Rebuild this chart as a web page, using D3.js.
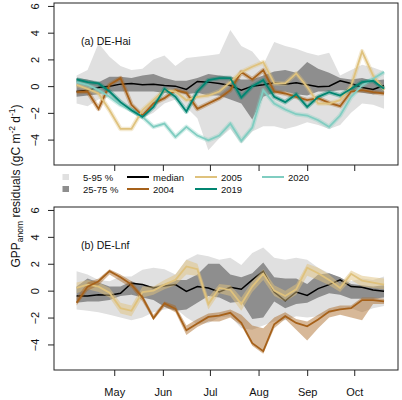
<!DOCTYPE html>
<html>
<head>
<meta charset="utf-8">
<script src="https://cdn.jsdelivr.net/npm/d3@7"></script>
<style>
    body { margin: 0; background: #fff; }
    svg { font-family: "Liberation Sans", Arial, sans-serif; }
</style>
</head>
<body>
<div id="chart"></div>
<script>
// day of year of each weekly value
const weekDoy = [97, 104, 111, 118, 125, 132, 139, 146, 153, 160, 167, 174, 181, 188, 195,
    202, 209, 216, 223, 230, 237, 244, 251, 258, 265, 272, 279, 286, 293];
const monthDoy = [121, 152, 182, 213, 244, 274];
const monthLabels = ['May', 'Jun', 'Jul', 'Aug', 'Sep', 'Oct'];
const yTicks = [-4, -2, 0, 2, 4, 6];

// (a) DE-Hai
const haiP5 = [-1.3, -1.5, -1.0, -0.8, -1.4, -1.9, -2.4, -2.0, -1.3, -1.0, -1.6, -2.4, -4.8, -3.9, -3.2,
    -4.3, -3.4, -3.0, -3.0, -3.2, -3.0, -2.7, -2.9, -3.2, -2.9, -2.0, -1.3, -1.4, -1.7];
const haiP25 = [-0.8, -0.7, -0.6, -0.4, -0.4, -0.4, -0.4, -0.4, -0.5, -0.4, -0.6, -0.5, -0.7, -0.7, -1.0,
    -1.3, -2.5, -0.8, -0.5, -0.4, -0.6, -0.7, -0.4, -0.4, -0.3, -0.3, -0.5, -0.6, -0.5];
const haiP75 = [0.6, 0.5, 0.3, 0.7, 0.7, 0.6, 0.8, 0.9, 0.6, 0.4, 0.4, 0.6, 0.9, 0.8, 0.7,
    0.5, 0.5, 0.8, 1.1, 1.2, 1.0, 1.8, 1.3, 1.0, 0.6, 0.5, 0.6, 0.4, 0.5];
const haiP95 = [0.8, 1.2, 3.2, 2.2, 1.5, 1.2, 1.3, 2.0, 2.3, 1.5, 2.1, 2.2, 2.3, 2.4, 4.2,
    3.0, 2.6, 1.6, 3.3, 3.0, 2.8, 2.5, 2.3, 2.5, 0.8, 1.2, 1.6, 1.4, 1.1];
const haiMedian = [-0.4, -0.3, -0.1, 0.0, 0.15, 0.2, 0.1, 0.15, 0.05, 0.0, -0.25, 0.35, 0.3, 0.2, 0.05,
    -0.3, 0.0, 0.1, 0.25, 0.15, 0.25, 0.1, -0.05, 0.0, 0.4, 0.2, -0.1, -0.25, 0.05];
const hai2004 = [-0.45, -0.4, -1.7, 0.1, 0.6, -1.4, -2.2, -1.3, -0.9, -0.3, -0.5, -1.7, -1.3, -0.9, -0.3,
    1.05, 0.5, 1.2, -0.4, -0.55, -0.8, -1.05, -0.9, -1.25, -1.5, -0.4, -0.3, -0.45, -0.55];
const hai2005 = [0.1, -0.2, -0.55, -1.8, -3.2, -3.2, -1.8, -1.05, -0.3, -0.4, -1.05, -0.8, -0.7, -0.4, 0.3,
    1.05, 1.45, 1.8, 0.2, 0.2, 0.95, -0.05, -1.3, -1.3, -1.05, 0.0, 2.6, 0.8, -0.3];
const hai2019 = [0.5, 0.3, 0.2, -0.4, -1.2, -1.8, -2.3, -1.55, -0.2, -0.8, -1.9, -0.4, 0.45, 0.6, 0.6,
    -0.85, 0.0, 0.45, -0.8, -1.2, -0.6, -1.55, -0.8, -0.45, -0.7, -0.2, 0.3, 0.4, -0.2];
const hai2020 = [0.3, 0.1, -0.3, -0.8, -1.4, -1.8, -2.3, -3.05, -2.8, -3.8, -3.05, -3.7, -4.05, -3.7, -2.8,
    -4.1, -3.1, -0.3, -1.3, -1.75, -2.1, -2.2, -2.55, -3.05, -2.2, -0.8, 0.05, 0.55, 1.05];

// (b) DE-Lnf
const lnfP5 = [-1.4, -1.5, -1.6, -1.8, -2.0, -2.2, -2.0, -1.6, -1.4, -1.3, -2.0, -2.5, -2.4, -2.0, -1.9,
    -2.8, -2.9, -2.6, -2.3, -2.2, -1.9, -2.0, -1.9, -1.7, -1.4, -1.3, -1.6, -1.3, -1.15];
const lnfP25 = [-0.9, -0.8, -0.8, -0.7, -0.4, -0.3, -0.5, -0.7, -1.2, -1.5, -1.4, -0.9, -0.4, -0.5, -0.9,
    -0.8, -2.1, -2.0, -0.8, -1.3, -1.0, -0.9, -0.5, -0.2, -0.3, -0.6, -0.6, -0.6, -0.5];
const lnfP75 = [0.3, 0.9, 0.6, 0.3, 0.3, 0.7, 0.4, 0.3, 0.5, 0.8, 0.8, 1.2, 2.0, 2.0, 1.2,
    1.0, 1.3, 2.1, 1.0, 0.9, 0.9, 0.5, 1.2, 1.3, 1.0, 0.5, 0.4, 0.3, 0.4];
const lnfP95 = [1.45, 1.2, 0.8, 0.7, 1.05, 1.05, 1.55, 1.7, 1.6, 1.2, 2.3, 2.7, 2.55, 2.3, 2.45,
    1.9, 2.8, 3.2, 2.45, 2.3, 2.45, 2.3, 1.7, 1.3, 0.95, 0.7, 0.9, 0.8, 1.05];
const lnfMedian = [-0.4, -0.4, -0.3, -0.35, -0.2, 0.55, 0.45, 0.2, 0.35, 0.45, -0.05, 0.3, 0.2, -0.1, 0.25,
    0.1, 0.8, 1.45, -0.1, -0.75, -0.1, -0.35, 0.15, 0.45, 0.8, 0.3, 0.25, 0.05, -0.05];
const lnf2004 = [-0.9, 0.3, 0.7, 1.45, 1.0, 0.45, -0.5, -2.05, -0.95, -1.35, -2.95, -2.45, -1.95, -1.85, -1.65,
    -2.4, -3.9, -4.5, -2.5, -1.9, -2.4, -2.65, -2.15, -1.55, -1.4, -1.3, -0.7, -0.7, -0.8];
const lnf2004Lo = [-1.1, 0.0, 0.4, 1.2, 0.7, 0.2, -0.8, -2.2, -1.2, -1.6, -3.3, -2.7, -2.3, -2.3, -2.0,
    -2.6, -4.1, -4.7, -2.8, -2.1, -2.9, -3.7, -2.8, -2.0, -1.8, -2.0, -2.2, -1.0, -1.0];
const lnf2004Hi = [-0.5, 0.6, 0.9, 1.6, 1.2, 0.7, -0.3, -1.8, -0.8, -1.1, -2.6, -2.1, -1.7, -1.6, -1.4,
    -1.8, -2.6, -2.8, -2.0, -1.6, -2.1, -2.3, -1.8, -1.3, -1.1, -1.1, -0.5, -0.5, -0.6];
const lnf2005 = [0.2, 0.45, 0.3, -0.15, -1.3, -1.5, -0.1, 0.0, 0.45, 0.8, 1.8, 1.6, -1.0, 0.2, 0.05,
    -1.0, 0.3, 1.25, 0.0, -0.4, 0.1, 1.7, 1.3, 0.8, 0.2, 1.25, 0.75, 0.6, 0.45];
const lnf2005Lo = [-0.2, 0.1, -0.1, -0.5, -1.7, -1.9, -0.5, -0.3, 0.1, 0.4, 1.2, 1.1, -1.4, -0.2, -0.4,
    -1.5, -0.1, 0.8, -0.4, -0.8, -0.3, 1.1, 0.8, 0.4, -0.1, 0.8, 0.3, 0.2, 0.1];
const lnf2005Hi = [0.6, 0.8, 0.6, 0.2, -0.9, -1.1, 0.3, 0.3, 0.8, 1.2, 2.3, 2.0, -0.5, 0.5, 0.4,
    -0.5, 0.7, 1.6, 0.4, 0.0, 0.5, 2.0, 1.7, 1.2, 0.5, 1.5, 1.1, 1.0, 0.9];

const colors = { 2004: '#a6611a', 2005: '#dfc27d', 2019: '#018571', 2020: '#80cdc1' };
const lightGray = '#e0e0e0';
const darkGray = '#8e8e8e';

const width = 402;
const height = 400;

const svg = d3.select('#chart')
    .append('svg')
    .attr('width', width)
    .attr('height', height);

// shared x scale (day of year)
const x = d3.scaleLinear()
    .domain([82.6, 301.9])
    .range([54, 398]);

function pack(values) {
    return weekDoy.map((doy, i) => ({ doy: doy, v: values[i] }));
}

function packBand(lo, hi) {
    return weekDoy.map((doy, i) => ({ doy: doy, lo: lo[i], hi: hi[i] }));
}

function drawPanel(panel) {
    const y = d3.scaleLinear()
        .domain([-5.9, 6.22])
        .range([panel.bottom, panel.top]);

    const g = svg.append('g');

    const area = d3.area()
        .x(d => x(d.doy))
        .y0(d => y(d.lo))
        .y1(d => y(d.hi));

    const line = d3.line()
        .x(d => x(d.doy))
        .y(d => y(d.v));

    // percentile bands
    g.append('path')
        .attr('d', area(packBand(panel.p5, panel.p95)))
        .attr('fill', lightGray);

    g.append('path')
        .attr('d', area(packBand(panel.p25, panel.p75)))
        .attr('fill', darkGray);

    g.append('path')
        .attr('d', line(pack(panel.median)))
        .attr('fill', 'none')
        .attr('stroke', '#000')
        .attr('stroke-width', 1.5);

    // year bands / halos
    panel.years.forEach(yr => {
        if (yr.lo) {
            g.append('path')
                .attr('d', area(packBand(yr.lo, yr.hi)))
                .attr('fill', colors[yr.name])
                .attr('opacity', yr.name === 2004 ? 0.45 : 0.5);
        } else {
            g.append('path')
                .attr('d', line(pack(yr.values)))
                .attr('fill', 'none')
                .attr('stroke', colors[yr.name])
                .attr('stroke-width', 4.5)
                .attr('stroke-linejoin', 'round')
                .attr('opacity', 0.35);
        }
    });

    panel.years.forEach(yr => {
        g.append('path')
            .attr('d', line(pack(yr.values)))
            .attr('fill', 'none')
            .attr('stroke', colors[yr.name])
            .attr('stroke-width', 1.8);
    });

    // box
    g.append('rect')
        .attr('x', 54)
        .attr('y', panel.top)
        .attr('width', 344)
        .attr('height', panel.bottom - panel.top)
        .attr('fill', 'none')
        .attr('stroke', '#222')
        .attr('stroke-width', 1);

    // axes
    const yAxisGroup = g.append('g')
        .attr('transform', 'translate(54, 0)')
        .call(d3.axisLeft(y).tickValues(yTicks).tickSize(6).tickSizeOuter(0));

    yAxisGroup.select('path.domain').remove();
    yAxisGroup.selectAll('line').attr('stroke', '#222');
    yAxisGroup.selectAll('text')
        .attr('transform', 'rotate(-90)')
        .attr('x', 0)
        .attr('y', -15.5)
        .attr('dy', 0)
        .attr('text-anchor', 'middle')
        .attr('font-size', 11)
        .attr('font-family', '"Liberation Sans", Arial, sans-serif')
        .attr('fill', '#111');

    const xAxis = d3.axisBottom(x)
        .tickValues(monthDoy)
        .tickSize(6)
        .tickSizeOuter(0)
        .tickPadding(12)
        .tickFormat((d, i) => panel.monthLabels ? monthLabels[i] : '');

    const xAxisGroup = g.append('g')
        .attr('transform', `translate(0, ${ panel.bottom })`)
        .call(xAxis);

    xAxisGroup.select('path.domain').remove();
    xAxisGroup.selectAll('line').attr('stroke', '#222');
    xAxisGroup.selectAll('text')
        .attr('font-size', 11)
        .attr('font-family', '"Liberation Sans", Arial, sans-serif')
        .attr('fill', '#111');

    // panel label
    g.append('text')
        .attr('x', 81)
        .attr('y', panel.top + 42)
        .attr('font-size', 10.5)
        .attr('fill', '#111')
        .text(panel.label);
}

drawPanel({
    label: '(a) DE-Hai',
    top: 3,
    bottom: 165,
    monthLabels: false,
    p5: haiP5, p25: haiP25, p75: haiP75, p95: haiP95, median: haiMedian,
    years: [
        { name: 2004, values: hai2004 },
        { name: 2005, values: hai2005 },
        { name: 2020, values: hai2020 },
        { name: 2019, values: hai2019 }
    ]
});

drawPanel({
    label: '(b) DE-Lnf',
    top: 207,
    bottom: 370,
    monthLabels: true,
    p5: lnfP5, p25: lnfP25, p75: lnfP75, p95: lnfP95, median: lnfMedian,
    years: [
        { name: 2005, values: lnf2005, lo: lnf2005Lo, hi: lnf2005Hi },
        { name: 2004, values: lnf2004, lo: lnf2004Lo, hi: lnf2004Hi }
    ]
});

// legend between the panels
const legend = svg.append('g')
    .attr('font-size', 9.5)
    .attr('fill', '#111');

const swatches = [
    { label: '5-95 %', fill: lightGray, row: 0 },
    { label: '25-75 %', fill: darkGray, row: 1 }
];
const rowY = [177, 189];

swatches.forEach(s => {
    legend.append('rect')
        .attr('x', 62.5)
        .attr('y', rowY[s.row] - 3)
        .attr('width', 6.5)
        .attr('height', 6)
        .attr('fill', s.fill);
    legend.append('text')
        .attr('x', 83)
        .attr('y', rowY[s.row] + 3.5)
        .text(s.label);
});

const legendLines = [
    { label: 'median', color: '#000', col: 0, row: 0 },
    { label: '2004', color: colors[2004], col: 0, row: 1 },
    { label: '2005', color: colors[2005], col: 1, row: 0 },
    { label: '2019', color: colors[2019], col: 1, row: 1 },
    { label: '2020', color: colors[2020], col: 2, row: 0 }
];
const colX = [127, 195, 262];

legendLines.forEach(l => {
    legend.append('line')
        .attr('x1', colX[l.col])
        .attr('x2', colX[l.col] + 22)
        .attr('y1', rowY[l.row])
        .attr('y2', rowY[l.row])
        .attr('stroke', l.color)
        .attr('stroke-width', 2);
    legend.append('text')
        .attr('x', colX[l.col] + 26)
        .attr('y', rowY[l.row] + 3.5)
        .text(l.label);
});

// y axis title
const yTitle = svg.append('text')
    .attr('transform', 'translate(19.5, 186) rotate(-90)')
    .attr('text-anchor', 'middle')
    .attr('font-size', 12)
    .attr('fill', '#111');

yTitle.append('tspan').text('GPP');
yTitle.append('tspan').attr('font-size', 8.5).attr('dy', 3).text('anom');
yTitle.append('tspan').attr('dy', -3).text(' residuals (gC m');
yTitle.append('tspan').attr('font-size', 8.5).attr('dy', -5).text('-2');
yTitle.append('tspan').attr('dy', 5).text(' d');
yTitle.append('tspan').attr('font-size', 8.5).attr('dy', -5).text('-1');
yTitle.append('tspan').attr('dy', 5).text(')');
</script>
</body>
</html>
